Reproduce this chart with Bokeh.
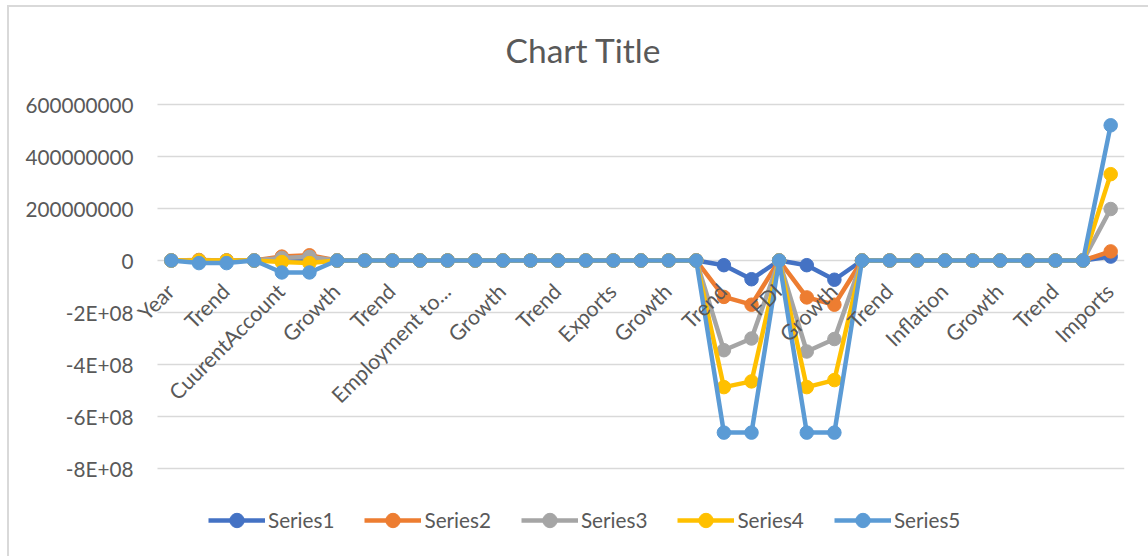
import math
from bokeh.plotting import figure
from bokeh.models import Range1d, FixedTicker, Legend, LegendItem, ColumnDataSource, LabelSet, Label
from bokeh.core.properties import value
from bokeh.embed import file_html
from bokeh.resources import INLINE

# ---- data ----
chart_title = "Chart Title"
tick_labels = ["Year", "Trend", "CuurentAccount", "Growth", "Trend", "Employment to...",
               "Growth", "Trend", "Exports", "Growth", "Trend", "FDI", "Growth", "Trend",
               "Inflation", "Growth", "Trend", "Imports"]
n_categories = 35

series1 = [0, 0, 0, 0, 0, 0, 0, 0, 0, 0, 0, 0, 0, 0, 0, 0, 0, 0, 0, 0,
           -1.8e7, -7.2e7, 0, -1.8e7, -7.4e7, 0, 0, 0, 0, 0, 0, 0, 0, 0, 1.5e7]
series2 = [0, 2e6, 0, 0, 1.5e7, 2.0e7, 0, 0, 0, 0, 0, 0, 0, 0, 0, 0, 0, 0, 0, 0,
           -1.4e8, -1.7e8, 0, -1.42e8, -1.7e8, 0, 0, 0, 0, 0, 0, 0, 0, 0, 3.5e7]
series3 = [0, 0, 0, 0, 1.0e7, 1.4e7, 0, 0, 0, 0, 0, 0, 0, 0, 0, 0, 0, 0, 0, 0,
           -3.45e8, -3.0e8, 0, -3.5e8, -3.02e8, 0, 0, 0, 0, 0, 0, 0, 0, 0, 1.98e8]
series4 = [0, 0, 0, 0, -6e6, -1.0e7, 0, 0, 0, 0, 0, 0, 0, 0, 0, 0, 0, 0, 0, 0,
           -4.87e8, -4.65e8, 0, -4.87e8, -4.6e8, 0, 0, 0, 0, 0, 0, 0, 0, 0, 3.32e8]
series5 = [0, -1.0e7, -1.0e7, 0, -4.6e7, -4.6e7, 0, 0, 0, 0, 0, 0, 0, 0, 0, 0, 0, 0, 0, 0,
           -6.62e8, -6.62e8, 0, -6.62e8, -6.62e8, 0, 0, 0, 0, 0, 0, 0, 0, 0, 5.2e8]
series_names = ["Series1", "Series2", "Series3", "Series4", "Series5"]
series_colors = ["#4472C4", "#ED7D31", "#A5A5A5", "#FFC000", "#5B9BD5"]
y_ticks = [-8e8, -6e8, -4e8, -2e8, 0, 2e8, 4e8, 6e8]
y_tick_labels = ["-8E+08", "-6E+08", "-4E+08", "-2E+08", "0", "200000000", "400000000", "600000000"]

FONT = "Lato"
TXT = "#595959"
GRID = "#D9D9D9"
x = list(range(n_categories))

# the plot frame covers the whole chart area right of the value labels, so the
# title, rotated category labels and legend can all be drawn inside it
FRAME_LEFT = 135
px_per_cat = 967 / n_categories
x_start = -0.5 - 22 / px_per_cat
px_per_y = 52 / 2e8
y_end = y_ticks[-1] + 104 / px_per_y
y_start = y_ticks[-1] - 452 / px_per_y

p = figure(width=1148, height=556, output_backend="svg", toolbar_location=None,
           x_range=Range1d(x_start, n_categories - 0.5), y_range=Range1d(y_start, y_end),
           x_axis_location=None, min_border_left=FRAME_LEFT, min_border_right=24,
           min_border_top=0, min_border_bottom=0)
try:
    p.title = None
except Exception:
    p.title.text = ""
p.outline_line_color = None
p.background_fill_alpha = 0
p.border_fill_alpha = 0
p.styles = {
    "background": "linear-gradient(#D9D9D9,#D9D9D9) 7px 5px / 100% 2px no-repeat, "
                  "linear-gradient(#D9D9D9,#D9D9D9) 7px 5px / 2px 100% no-repeat, white"
}

p.xgrid.visible = False
p.ygrid.visible = False
p.segment(x0=[-0.5] * len(y_ticks), x1=[n_categories - 0.5] * len(y_ticks),
          y0=y_ticks, y1=y_ticks, line_color=GRID, line_width=1.3)

ya = p.yaxis[0]
ya.ticker = FixedTicker(ticks=y_ticks)
ya.major_label_overrides = {t: l for t, l in zip(y_ticks, y_tick_labels)}
ya.axis_line_color = None
ya.major_tick_line_color = None
ya.major_tick_out = 0
ya.major_tick_in = 0
ya.minor_tick_line_color = None
ya.major_label_standoff = 2
ya.major_label_text_font = FONT
ya.major_label_text_font_size = "20.7px"
ya.major_label_text_color = TXT

items = []
for name, col, ys in zip(series_names, series_colors, [series1, series2, series3, series4, series5]):
    l = p.line(x, ys, line_color=col, line_width=4.5)
    s = p.scatter(x, ys, size=13.5, fill_color=col, line_color=col)
    items.append(LegendItem(label=name, renderers=[l, s]))

tick_x = list(range(0, n_categories, 2))
lab_src = ColumnDataSource(dict(x=tick_x, y=[0] * len(tick_x), text=tick_labels))
labels = LabelSet(x="x", y="y", text="text", source=lab_src, angle=math.pi / 4,
                  text_align="right", text_baseline="middle", x_offset=-1, y_offset=-27,
                  text_font=value(FONT), text_font_size="21.3px", text_color=TXT)
p.add_layout(labels)

# chart title, centred over the whole chart
title = Label(x=x_start + (583 - FRAME_LEFT) / px_per_cat, y=y_end - 49 / px_per_y,
              text=chart_title, text_align="center", text_baseline="middle",
              text_font=FONT, text_font_size="33.5px", text_color=TXT)
p.add_layout(title)

legend = Legend(items=items, orientation="horizontal", location=(73, 18),
                glyph_width=57, glyph_height=36, label_standoff=3, spacing=30,
                border_line_color=None, background_fill_alpha=0, padding=0, margin=0,
                label_text_font=FONT, label_text_font_size="20.7px", label_text_color=TXT)
p.add_layout(legend)

open("out.html", "w").write(file_html(p, INLINE))
